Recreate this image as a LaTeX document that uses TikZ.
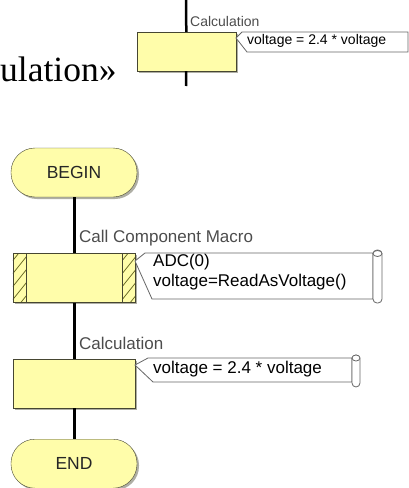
\documentclass[tikz,border=0pt]{standalone}
\usepackage{fontspec}
\setmainfont{Liberation Sans}
\newfontfamily\serifa{Liberation Serif}
\usetikzlibrary{positioning}
\usetikzlibrary{shadows}

\definecolor{giallo}{RGB}{255,253,170}
\definecolor{bordo}{RGB}{70,70,50}
\definecolor{ombra}{RGB}{175,175,165}
\definecolor{tratto}{RGB}{110,110,40}

\begin{document}
\begin{tikzpicture}[x=1pt,y=-1pt,node distance=56pt,
terminale/.style={draw=bordo,fill=giallo,rounded corners=24pt,minimum width=126pt,minimum height=49pt,inner sep=0pt,text=black!85,font=\fontsize{17.5}{17.5}\selectfont,drop shadow={shadow xshift=2pt,shadow yshift=-2pt,fill=ombra,opacity=1}},
blocco/.style={draw=bordo,fill=giallo,minimum width=122pt,minimum height=49pt,inner sep=0pt,drop shadow={shadow xshift=2pt,shadow yshift=-2pt,fill=ombra,opacity=1}},
etich/.style={anchor=west,inner sep=0pt,text=black!70,font=\fontsize{17}{17}\selectfont},
nota/.style={anchor=west,inner sep=0pt,align=left,font=\fontsize{17}{20}\selectfont},
commento/.style={draw=black!60,fill=white,line width=0.8pt},
flusso/.style={line width=3pt},
righe/.style={draw=tratto,line width=0.8pt}
]
\clip (0,0) rectangle (409,488);
%-- pezzo in alto
\node[anchor=base west,inner sep=0pt,font=\serifa\fontsize{35.5}{35.5}\selectfont](titolo) at (0,81){ulation»};
\coordinate (cimaA) at (186,0);
\coordinate (fondoA) at (186,86);
\node[blocco,minimum width=99pt,minimum height=39pt](calcoloA) at (186.5,51.5){};
\draw[flusso,line width=2.5pt] (cimaA) -- (calcoloA);
\draw[flusso,line width=2.5pt] (calcoloA) -- (fondoA);
\node[etich,font=\fontsize{14}{14}\selectfont](labCalcA) at (190,21){Calculation};
\draw[commento] (242,32) -- (408,32) -- (408,52) -- (247,52) -- (236,38) -- cycle;
\node[nota,font=\fontsize{14}{14}\selectfont](notaA) at (247,41){voltage = 2.4 * voltage};
%----
\node[terminale](inizio) at (74,172.5){BEGIN};
%--
\node[blocco,below=56pt of inizio](macro){};
\draw[flusso] (inizio) -- (macro);
\node[etich](labMacro) at (79,238){Call Component Macro};
\foreach \lato/\sp in {south west/0pt,south east/-13pt}{
  \begin{scope}
  \clip ([xshift=\sp]macro.\lato) rectangle ([xshift=\sp+13pt,yshift=49pt]macro.\lato);
  \foreach \k in {-10,3,...,60}
    \draw[righe] ([xshift=\sp,yshift=\k pt]macro.\lato) -- ++(16,-20);
  \end{scope}
  \draw[draw=bordo] ([xshift=\sp]macro.\lato) rectangle ([xshift=\sp+13pt,yshift=49pt]macro.\lato);
}
\draw[commento] (145,253) -- (373,253) -- (373,299) -- (152,299) -- (135,261) -- cycle;
\draw[commento,rounded corners=4pt] (373,250) rectangle (382,303);
\draw[commento] (377.5,253.5) ellipse (4.5 and 3);
\node[nota](notaMacro) at (153,272){ADC(0)\\voltage=ReadAsVoltage()};
%--
\node[blocco,below=56pt of macro](calcolo){};
\draw[flusso] (macro) -- (calcolo);
\node[etich](labCalc) at (79,343){Calculation};
\draw[commento] (148,358) -- (352,358) -- (352,382) -- (153,382) -- (135,365) -- cycle;
\draw[commento,rounded corners=4pt] (352,355) rectangle (360,387);
\draw[commento] (356,358) ellipse (4 and 3);
\node[nota](notaCalc) at (153,369){voltage = 2.4 * voltage};
%--
\node[terminale,below=31pt of calcolo](fine){END};
\draw[flusso] (calcolo) -- (fine);
\end{tikzpicture}
\end{document}
